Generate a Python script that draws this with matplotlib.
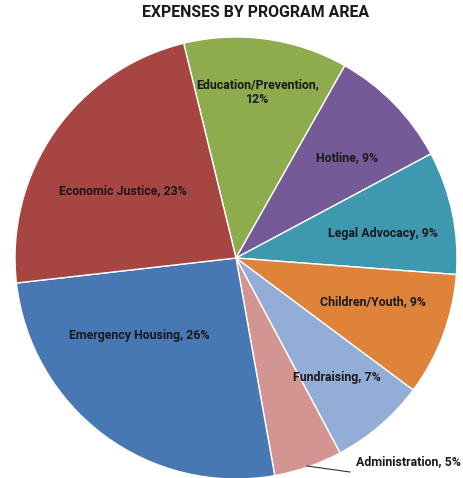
import matplotlib
matplotlib.use('Agg')
import matplotlib.pyplot as plt
from matplotlib import font_manager

# Chart data
categories = ["Education/Prevention", "Hotline", "Legal Advocacy", "Children/Youth",
              "Fundraising", "Administration", "Emergency Housing", "Economic Justice"]
shares = [12, 9, 9, 9, 7, 5, 26, 23]
colors = ["#8EAC4D", "#745A96", "#3E98AF", "#DE8339",
          "#94ADD6", "#D39592", "#4878B4", "#A64541"]

# pick a narrow bold face if available
names = {f.name for f in font_manager.fontManager.ttflist}
font = "Liberation Sans Narrow" if "Liberation Sans Narrow" in names else "Roboto"

W, H = 463, 478
fig = plt.figure(figsize=(W / 100, H / 100), dpi=100)
ax = fig.add_axes([0, 0, 1, 1])

cx, cy, r = 236, H - 258, 221
ax.pie(shares, colors=colors, startangle=103.7, counterclock=False,
       center=(cx, cy), radius=r,
       wedgeprops=dict(edgecolor="white", linewidth=1))
ax.set_xlim(0, W)
ax.set_ylim(0, H)
ax.set_aspect("equal")
ax.axis("off")

# label positions in pixel coords (top origin)
label_pos = {
    "Education/Prevention": (258, 92),
    "Hotline": (347, 158),
    "Legal Advocacy": (383, 233),
    "Children/Youth": (373, 302),
    "Fundraising": (337, 377),
    "Administration": (408, 462),
    "Emergency Housing": (139, 336),
    "Economic Justice": (123, 191),
}
for name, val in zip(categories, shares):
    x, y = label_pos[name]
    if name == "Education/Prevention":
        txt = f"{name},\n{val}%"
    else:
        txt = f"{name}, {val}%"
    ax.text(x, H - y, txt, ha="center", va="center", fontsize=8.9,
            fontweight="bold", family=font, color="#1a1a1a", linespacing=1.2)

# leader line for Administration
ax.plot([307, 350], [H - 466, H - 472], color="#333333", lw=0.8)

ax.text(256, H - 12, "EXPENSES BY PROGRAM AREA", ha="center", va="center",
        fontsize=11.4, fontweight="bold", family=font, color="#1a1a1a")

fig.savefig("out.png", dpi=100)
